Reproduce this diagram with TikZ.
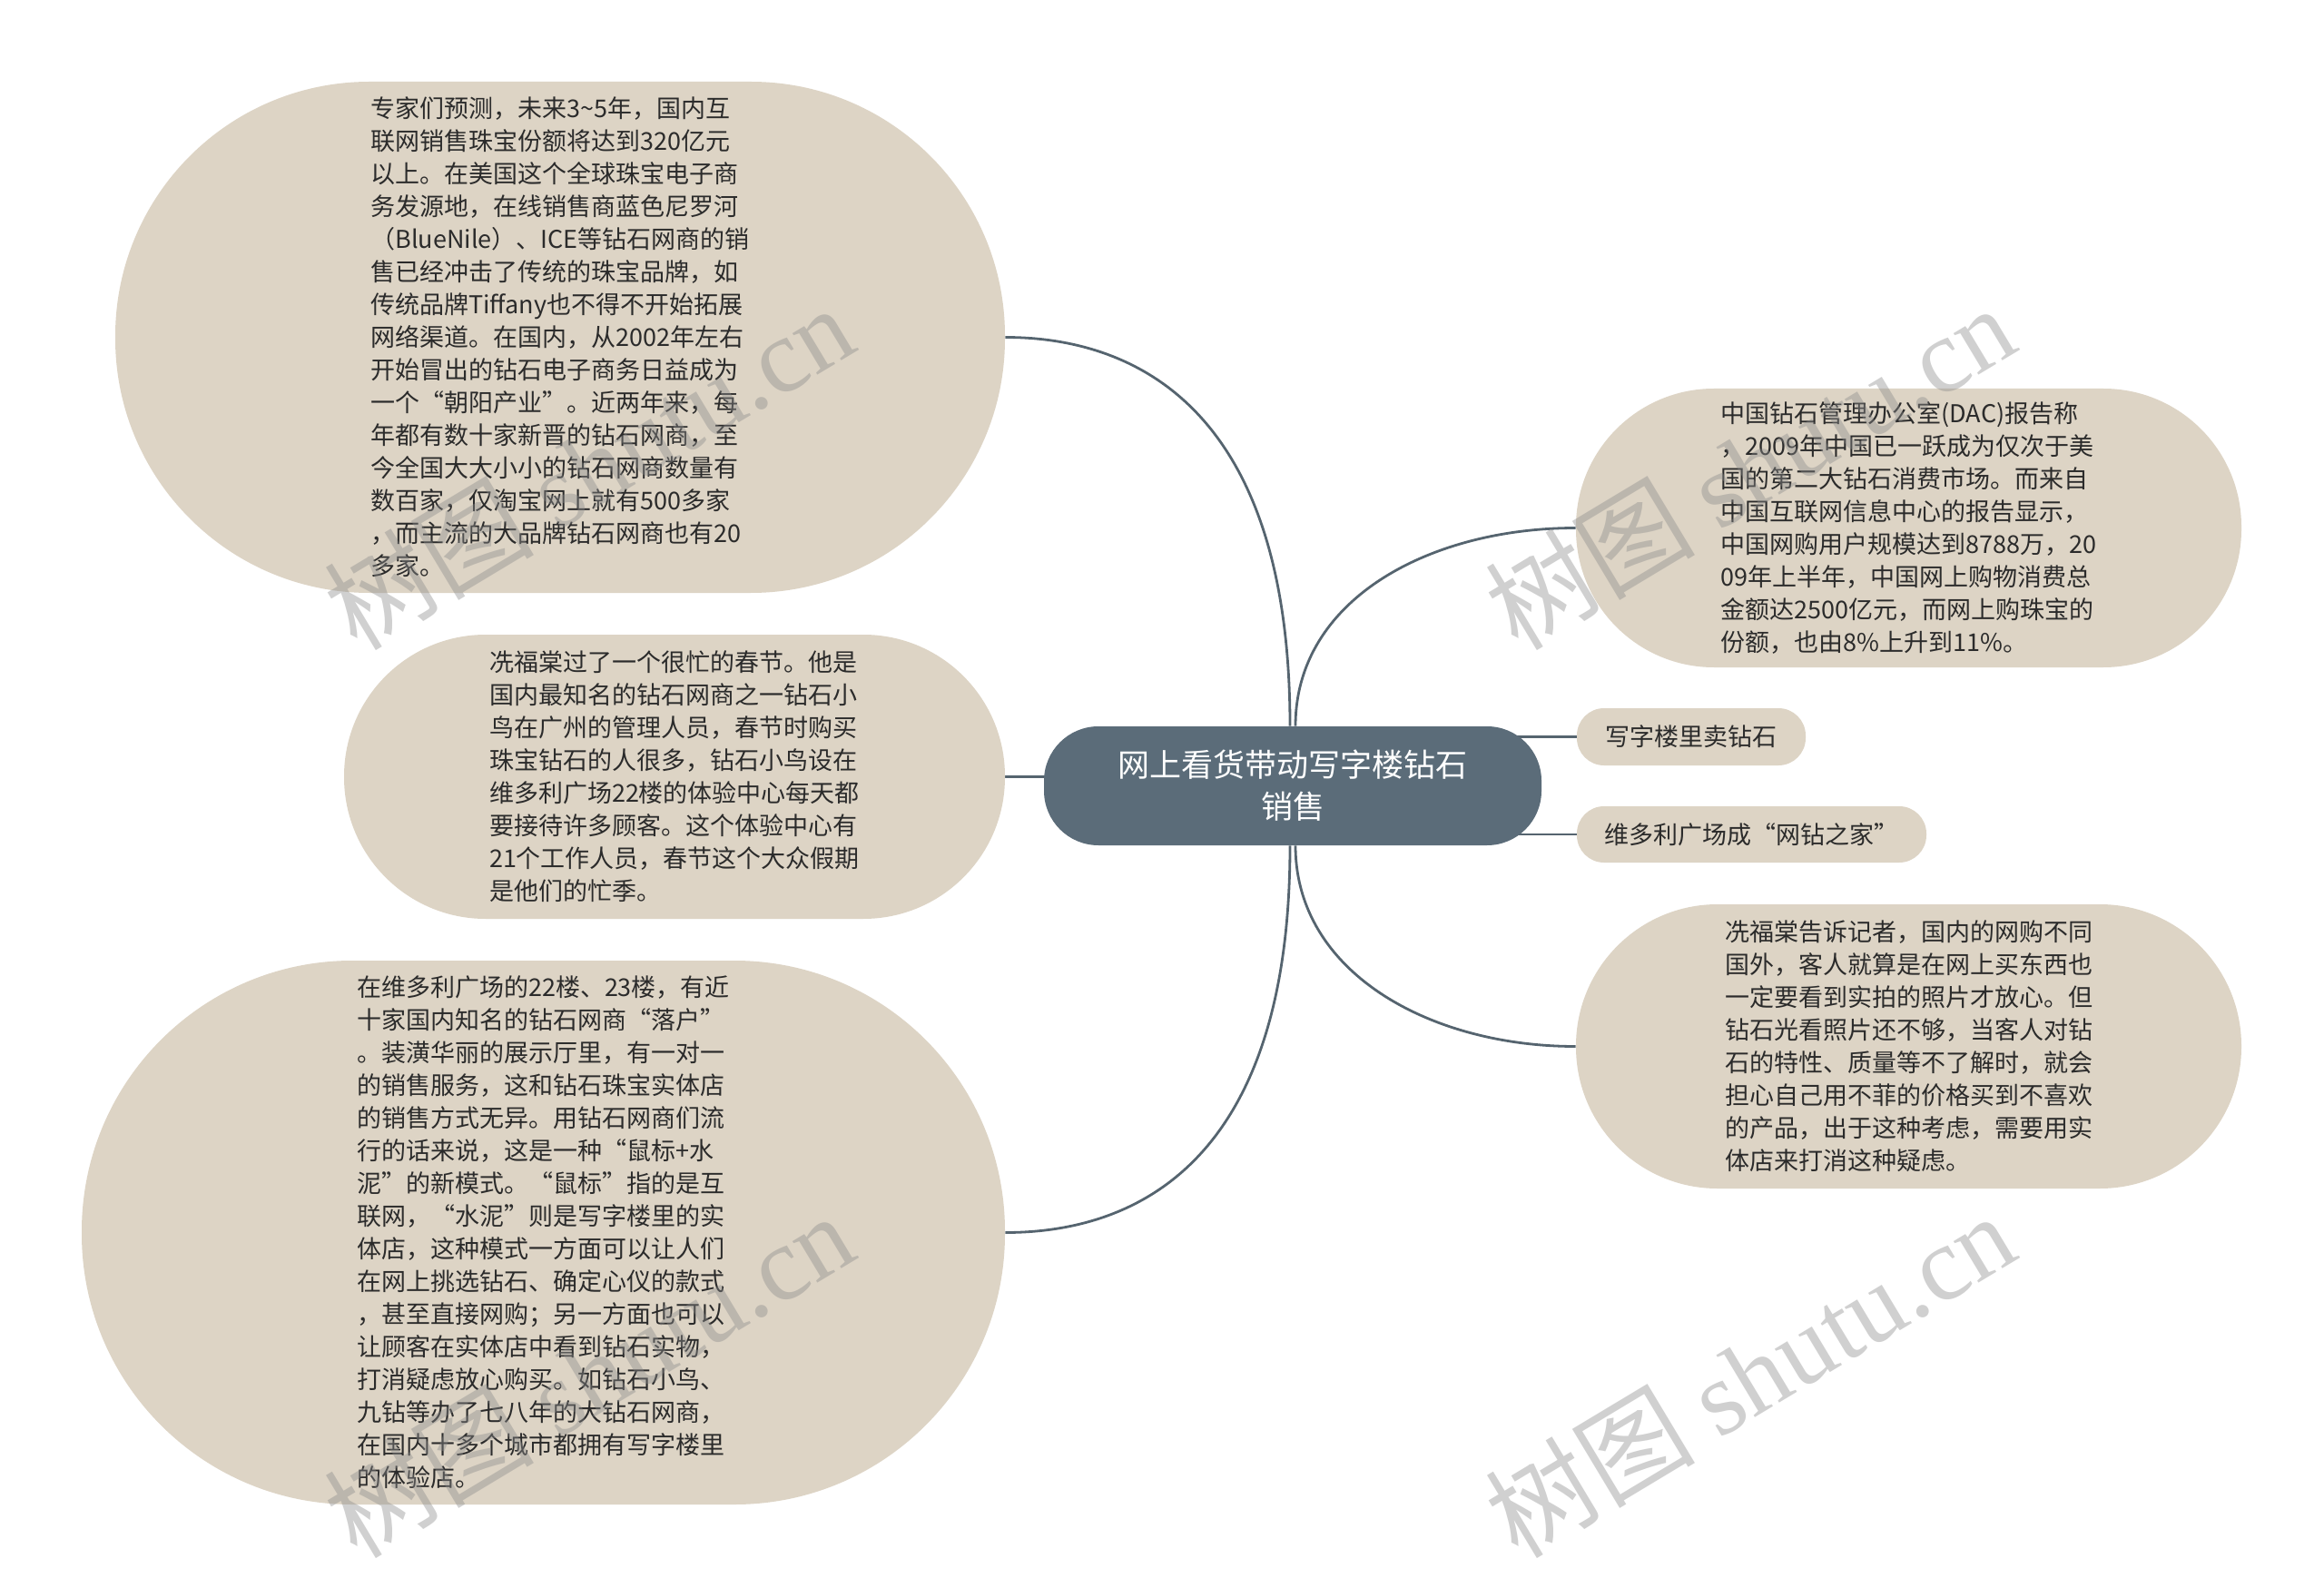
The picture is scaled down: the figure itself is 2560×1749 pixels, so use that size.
\documentclass[tikz,border=0pt]{standalone}
\usepackage{fontspec}
\setmainfont{Noto Sans CJK SC}
\newfontfamily\wmlatin{Liberation Serif}
\usetikzlibrary{backgrounds,calc}
\definecolor{bub}{HTML}{DDD4C5}
\definecolor{cen}{HTML}{5B6C79}
\definecolor{lnk}{HTML}{55646F}
\definecolor{txt}{HTML}{2B2B2B}
\definecolor{wmc}{HTML}{8A8A8A}
\begin{document}
\begin{tikzpicture}[x=0.5pt,y=-0.5pt,
  bubble/.style={fill=bub, draw=none, text=txt, align=left, inner sep=0pt,
    font=\fontsize{13.5pt}{18pt}\selectfont},
  central/.style={fill=cen, draw=none, text=white, align=center, inner sep=0pt,
    font=\fontsize{17.5pt}{23pt}\selectfont, minimum width=274pt, minimum height=65.5pt, rounded corners=30pt},
  link/.style={draw=lnk, line width=1.4pt},
  wm/.style={text=wmc, text opacity=0.4, font=\fontsize{58pt}{60pt}\selectfont, inner sep=0pt}]
\useasboundingbox (0,0) rectangle (2560,1749);

\node[central] (C) at (1424,865.5) {网上看货带动写字楼钻石\\销售};

\node[bubble, minimum width=490pt, minimum height=281.5pt, rounded corners=140pt] (TL) at (617,371.5)
{专家们预测，未来3\textasciitilde5年，国内互\\
联网销售珠宝份额将达到320亿元\\
以上。在美国这个全球珠宝电子商\\
务发源地，在线销售商蓝色尼罗河\\
（BlueNile）、ICE等钻石网商的销\\
售已经冲击了传统的珠宝品牌，如\\
传统品牌Tiffany也不得不开始拓展\\
网络渠道。在国内，从2002年左右\\
开始冒出的钻石电子商务日益成为\\
一个“朝阳产业”。近两年来，每\\
年都有数十家新晋的钻石网商，至\\
今全国大大小小的钻石网商数量有\\
数百家，仅淘宝网上就有500多家\\
，而主流的大品牌钻石网商也有20\\
多家。};

\node[bubble, minimum width=364pt, minimum height=156.5pt, rounded corners=78pt] (ML) at (743,855.5)
{冼福棠过了一个很忙的春节。他是\\
国内最知名的钻石网商之一钻石小\\
鸟在广州的管理人员，春节时购买\\
珠宝钻石的人很多，钻石小鸟设在\\
维多利广场22楼的体验中心每天都\\
要接待许多顾客。这个体验中心有\\
21个工作人员，春节这个大众假期\\
是他们的忙季。};

\node[bubble, minimum width=508.5pt, minimum height=299.5pt, rounded corners=149pt] (BL) at (598.5,1357.5)
{在维多利广场的22楼、23楼，有近\\
十家国内知名的钻石网商“落户”\\
。装潢华丽的展示厅里，有一对一\\
的销售服务，这和钻石珠宝实体店\\
的销售方式无异。用钻石网商们流\\
行的话来说，这是一种“鼠标+水\\
泥”的新模式。“鼠标”指的是互\\
联网，“水泥”则是写字楼里的实\\
体店，这种模式一方面可以让人们\\
在网上挑选钻石、确定心仪的款式\\
，甚至直接网购；另一方面也可以\\
让顾客在实体店中看到钻石实物，\\
打消疑虑放心购买。如钻石小鸟、\\
九钻等办了七八年的大钻石网商，\\
在国内十多个城市都拥有写字楼里\\
的体验店。};

\node[bubble, minimum width=366.5pt, minimum height=153.5pt, rounded corners=76pt] (RT) at (2102.5,581.5)
{中国钻石管理办公室(DAC)报告称\\
，2009年中国已一跃成为仅次于美\\
国的第二大钻石消费市场。而来自\\
中国互联网信息中心的报告显示，\\
中国网购用户规模达到8788万，20\\
09年上半年，中国网上购物消费总\\
金额达2500亿元，而网上购珠宝的\\
份额，也由8\%上升到11\%。};

\node[bubble, minimum width=366.5pt, minimum height=156.5pt, rounded corners=78pt] (RB) at (2102.5,1152.5)
{冼福棠告诉记者，国内的网购不同\\
国外，客人就算是在网上买东西也\\
一定要看到实拍的照片才放心。但\\
钻石光看照片还不够，当客人对钻\\
石的特性、质量等不了解时，就会\\
担心自己用不菲的价格买到不喜欢\\
的产品，出于这种考虑，需要用实\\
体店来打消这种疑虑。};

\node[bubble, align=center, minimum width=126pt, minimum height=31.5pt, rounded corners=15pt] (S1) at (1863,811.5) {写字楼里卖钻石};
\node[bubble, align=center, minimum width=192.5pt, minimum height=31pt, rounded corners=15pt] (S2) at (1929.5,919) {维多利广场成“网钻之家”};

\begin{scope}[on background layer]
\fill[white] (0,0) rectangle (2560,1749);
\draw[link] ($(C.north)+(-3,0)$) .. controls +(0,-350) and +(143,0) .. (TL.east);
\draw[link] ($(C.south)+(-3,0)$) .. controls +(0,350) and +(143,0) .. (BL.east);
\draw[link] ($(C.north)+(3,0)$) .. controls +(0,-140) and +(-160,0) .. (RT.west);
\draw[link] ($(C.south)+(3,0)$) .. controls +(0,140) and +(-160,0) .. (RB.west);
\draw[link] (ML.east) -- (ML.east -| C.center);
\draw[link] (S1.west) -- (S1.west -| C.center);
\draw[link] (S2.west) -- (S2.west -| C.center);
\end{scope}

\node[wm, rotate=31] (W1) at (648,514) {树图 {\wmlatin shutu.cn}};
\node[wm, rotate=31] (W2) at (1927,514) {树图 {\wmlatin shutu.cn}};
\node[wm, rotate=31] (W3) at (648,1514) {树图 {\wmlatin shutu.cn}};
\node[wm, rotate=31] (W4) at (1927,1514) {树图 {\wmlatin shutu.cn}};
\end{tikzpicture}
\end{document}
